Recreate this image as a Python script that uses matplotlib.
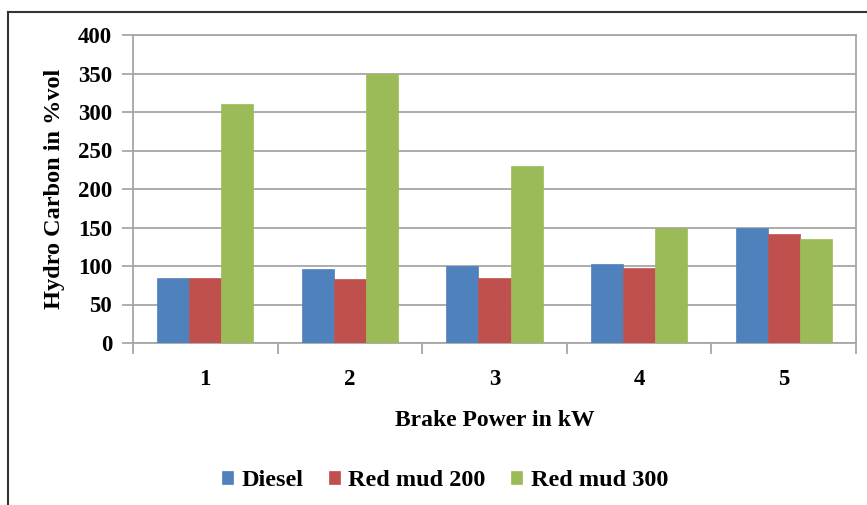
import matplotlib
matplotlib.use("Agg")
import matplotlib.pyplot as plt
import numpy as np
from matplotlib.lines import Line2D

categories = ["1", "2", "3", "4", "5"]
diesel = [85, 96, 100, 103, 150]
red_mud_200 = [85, 83, 85, 97, 141]
red_mud_300 = [310, 350, 230, 150, 135]
series_names = ["Diesel", "Red mud 200", "Red mud 300"]
colors = ["#4F81BD", "#C0504D", "#9BBB59"]
yticks = [0, 50, 100, 150, 200, 250, 300, 350, 400]

plt.rcParams['font.family'] = ['Liberation Serif', 'DejaVu Serif']
plt.rcParams['font.weight'] = 'bold'

W, H = 867, 505
fig = plt.figure(figsize=(W/100, H/100), dpi=100)
ax = fig.add_axes([133/W, 1-343/H, (856-133)/W, (343-35)/H])

x = np.arange(len(categories))
bw = 0.222
for i, (vals, name, c) in enumerate(zip([diesel, red_mud_200, red_mud_300], series_names, colors)):
    ax.bar(x + (i-1)*bw, vals, width=bw, color=c, label=name, zorder=3,
           edgecolor=c, linewidth=0.5)

ax.set_xlim(-0.5, 4.5)
ax.set_ylim(0, 400)
ax.set_yticks(yticks)
ax.set_yticklabels([str(v) for v in yticks], fontsize=16.5, fontweight='bold')
ax.yaxis.grid(True, color='#A6A6A6', linewidth=1.3, zorder=0)
ax.set_axisbelow(True)

# category labels centered, ticks at boundaries
ax.set_xticks(x)
ax.set_xticklabels(categories, fontsize=16.5, fontweight='bold')
ax.tick_params(axis='x', length=0, pad=19)
ax.set_xticks(np.arange(-0.5, 5.0, 1.0), minor=True)
ax.tick_params(axis='x', which='minor', length=8, color='#A6A6A6', width=1.3)
ax.tick_params(axis='y', length=8, color='#A6A6A6', width=1.3, pad=7)

for s in ax.spines.values():
    s.set_color('#A6A6A6')
    s.set_linewidth(1.3)

ax.set_xlabel("Brake Power in kW", fontsize=17, fontweight='bold', labelpad=14)
ax.set_ylabel("Hydro Carbon in %vol", fontsize=17.5, fontweight='bold', labelpad=9)

leg = fig.legend(loc='center', bbox_to_anchor=(445/W, 1-481/H), ncol=3, frameon=False,
                 prop={'size': 17.5, 'weight': 'bold'}, handlelength=0.45, handleheight=0.45,
                 handletextpad=0.35, columnspacing=1.05)

# outer frame
fig.add_artist(Line2D([8/W, 1.0], [1-12/H, 1-12/H], transform=fig.transFigure, color='#333333', linewidth=1.5))
fig.add_artist(Line2D([8/W, 8/W], [1-12/H, 0], transform=fig.transFigure, color='#333333', linewidth=1.5))

fig.savefig("out.png", dpi=100)
